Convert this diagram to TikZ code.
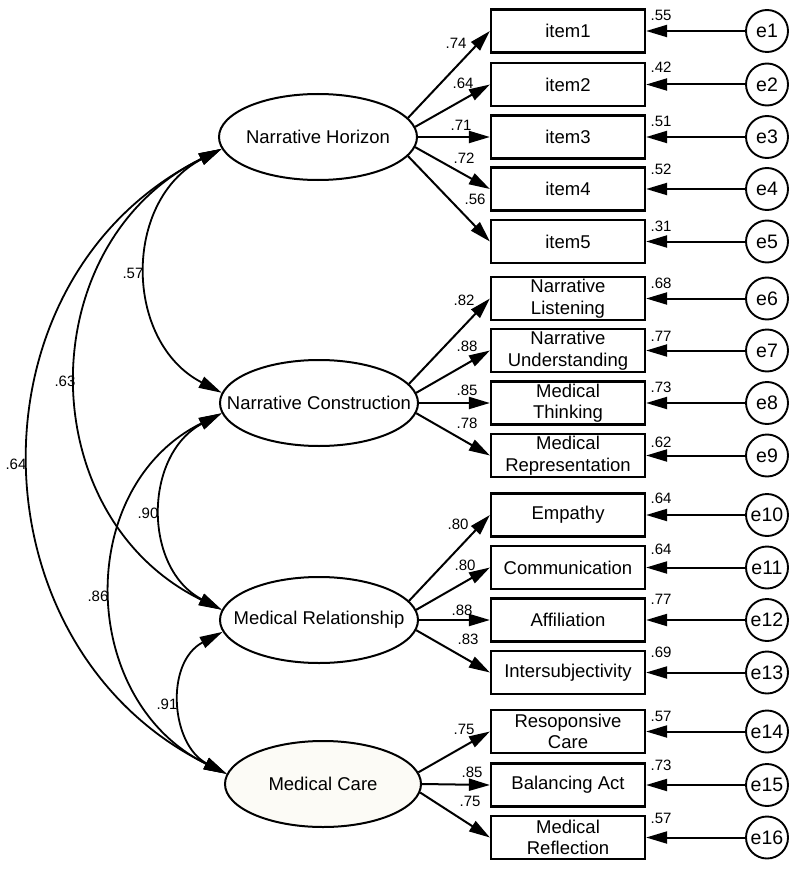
\documentclass[tikz,border=0pt]{standalone}
\usepackage{fontspec}
\setmainfont{Liberation Sans}
\usetikzlibrary{shapes.geometric,arrows.meta}
\definecolor{mcfill}{RGB}{252,251,246}
\newcommand\fbig{\fontsize{18.5}{21.5}\selectfont}
\newcommand\ferr{\fontsize{19.5}{22}\selectfont}
\newcommand\fsm{\fontsize{15}{17}\selectfont}
\begin{document}
\begin{tikzpicture}[x=1pt,y=-1pt,
  latent/.style={ellipse, draw, line width=2pt, minimum width=198pt, minimum height=86pt, inner sep=0pt},
  txt/.style={font=\fbig, inner sep=0pt},
  obs/.style={rectangle, draw, line width=2.2pt, minimum width=154pt, minimum height=43pt, inner sep=0pt, align=center, font=\fbig},
  err/.style={circle, draw, line width=1.9pt, minimum size=42pt, inner sep=0pt, font=\ferr},
  num/.style={font=\fsm, inner sep=0pt},
  reg/.style={-{Triangle[length=21pt,width=12pt]}, line width=2pt},
  cov/.style={{Triangle[length=23pt,width=12pt]}-{Triangle[length=23pt,width=12pt]}, line width=1.8pt}]
\useasboundingbox (0,0) rectangle (800,869);

% latent variables
\node[latent] (NH) at (318,137) {};
\node[txt] (NHt) at (NH.center) {Narrative Horizon};
\node[latent] (NC) at (319,403) {};
\node[txt] (NCt) at (NC.center) {Narrative Construction};
\node[latent] (MR) at (319,620) {};
\node[txt] (MRt) at (MR.center) {Medical Relationship};
\node[latent, fill=mcfill, minimum width=196pt] (MC) at (323,784) {};
\node[txt] (MCt) at (MC.center) {Medical Care};

% observed variables
\foreach \n/\y/\t in {1/31/item1, 2/84.5/item2, 3/137/item3, 4/189/item4, 5/241.5/item5,
  6/298.5/{Narrative\\Listening}, 7/350.5/{Narrative\\Understanding}, 8/403/{Medical\\Thinking},
  9/455.5/{Medical\\Representation}, 10/515/Empathy, 11/567.5/Communication, 12/620/Affiliation,
  13/672.5/Intersubjectivity, 14/731.5/{Resoponsive\\Care}, 15/785/Balancing Act, 16/837.5/{Medical\\Reflection}}{
  \node[obs] (b\n) at (568,\y) {\t};
  \node[err] (e\n) at (767,\y) {e\n};
  \draw[reg] (e\n) -- (b\n);
}

% loadings
\draw[reg] (NH.12) -- (b1.west);
\draw[reg] (NH.6) -- (b2.west);
\draw[reg] (NH.0) -- (b3.west);
\draw[reg] (NH.-6) -- (b4.west);
\draw[reg] (NH.-12) -- (b5.west);
\draw[reg] (NC.12) -- (b6.west);
\draw[reg] (NC.6) -- (b7.west);
\draw[reg] (NC.0) -- (b8.west);
\draw[reg] (NC.-6) -- (b9.west);
\draw[reg] (MR.12) -- (b10.west);
\draw[reg] (MR.6) -- (b11.west);
\draw[reg] (MR.0) -- (b12.west);
\draw[reg] (MR.-6) -- (b13.west);
\draw[reg] (MC.7) -- (b14.west);
\draw[reg] (MC.0) -- (b15.west);
\draw[reg] (MC.-5) -- (b16.west);

% covariances
\draw[cov] (NH.187) .. controls (122.5,200) and (123.5,342) .. (NC.174);
\draw[cov] (NH.187) .. controls (30,243) and (30,516) .. (MR.174);
\draw[cov] (NH.187) .. controls (-36.7,277.4) and (-30.7,646.6) .. (MC.174);
\draw[cov] (NC.186) .. controls (143.6,454.7) and (142.6,568.3) .. (MR.174);
\draw[cov] (NC.186) .. controls (73,487) and (78,701) .. (MC.174);
\draw[cov] (MR.187) .. controls (164.6,662.4) and (170.6,744.6) .. (MC.174);

% covariance labels
\node[num] (c1) at (133,273) {.57};
\node[num] (c2) at (65,381) {.63};
\node[num] (c3) at (16,464) {.64};
\node[num] (c4) at (148,513) {.90};
\node[num] (c5) at (98,596) {.86};
\node[num] (c6) at (167,704) {.91};

% loading labels
\foreach \n/\x/\y/\t in {1/456/43/.74, 2/463/83/.64, 3/461/125/.71, 4/464/158/.72, 5/475/199/.56,
  6/464/300/.82, 7/467/346/.88, 8/467/390/.85, 9/467/423/.78,
  10/458/524/.80, 11/465/565/.80, 12/462/610/.88, 13/468/639/.83,
  14/464/729/.75, 15/472/772/.85, 16/470/801/.75}{
  \node[num] (l\n) at (\x,\y) {\t};
}

% squared multiple correlations
\foreach \n/\y/\t in {1/15/.55, 2/67/.42, 3/121/.51, 4/169/.52, 5/226/.31,
  6/283/.68, 7/336/.77, 8/387/.73, 9/442/.62,
  10/498/.64, 11/549/.64, 12/599/.77, 13/652/.69,
  14/716/.57, 15/765/.73, 16/818/.57}{
  \node[num] (r\n) at (661,\y) {\t};
}
\end{tikzpicture}
\end{document}
